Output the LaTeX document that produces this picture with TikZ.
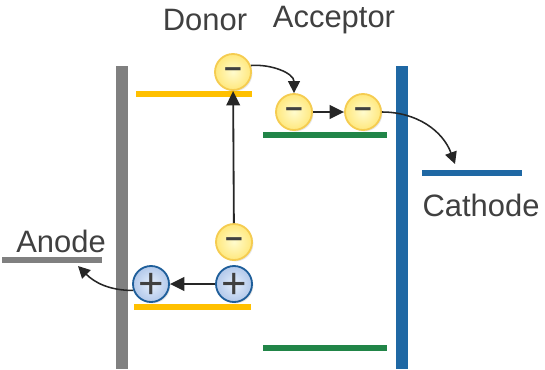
\documentclass[tikz,border=0pt]{standalone}
\usepackage{fontspec}
\setmainfont{Liberation Sans}
\usetikzlibrary{arrows.meta, positioning, shadows}
\definecolor{donoryellow}{RGB}{255,192,0}
\definecolor{accgreen}{RGB}{33,133,72}
\definecolor{cathblue}{RGB}{31,104,164}
\definecolor{anodegray}{RGB}{128,128,128}
\definecolor{textgray}{RGB}{64,64,64}
\definecolor{arrowgray}{RGB}{38,38,38}
\definecolor{eleccore}{RGB}{255,251,205}
\definecolor{elecrim}{RGB}{255,232,125}
\definecolor{elecdraw}{RGB}{245,204,80}
\definecolor{holecore}{RGB}{228,238,252}
\definecolor{holerim}{RGB}{178,200,234}
\definecolor{holedraw}{RGB}{30,94,154}
\newcommand{\chargesign}[2]{\raisebox{#1}[0pt][0pt]{#2}}
\tikzset{
    electrode/.style={draw=#1, line width=8.5pt},
    level/.style={draw=#1, line width=4.2pt},
    contact/.style={draw=#1, line width=3.6pt},
    eleclabel/.style={font=\fontsize{22}{26}\selectfont, text=textgray, inner sep=0pt},
    electron/.style={circle, draw=elecdraw, inner color=eleccore, outer color=elecrim, line width=1.3pt, minimum size=0.9cm, inner sep=0pt, text=textgray, font=\fontsize{22}{22}\selectfont\bfseries, drop shadow={opacity=0.2, shadow xshift=1pt, shadow yshift=-1pt}},
    hole/.style={circle, draw=holedraw, inner color=holecore, outer color=holerim, line width=1.3pt, minimum size=0.9cm, inner sep=0pt, text=textgray, font=\fontsize{31}{31}\selectfont, drop shadow={opacity=0.2, shadow xshift=1pt, shadow yshift=-1pt}},
    transfer/.style={-{Triangle[length=3.6mm, width=3.4mm]}, arrowgray, line width=1.3pt},
    hop/.style={-{Triangle[length=3mm, width=3mm]}, arrowgray, line width=1.1pt}
}

\begin{document}
\begin{tikzpicture}[x=0.025cm, y=-0.025cm]
\useasboundingbox (0,0) rectangle (545,369);

% electrodes
\draw[electrode=anodegray] (122,66) -- (122,369);
\draw[electrode=cathblue] (402,66) -- (402,369);

% energy levels
\draw[level=donoryellow] (136,94) -- (252,94);
\draw[level=donoryellow] (134,307) -- (251,307);
\draw[level=accgreen] (263,135) -- (387,135);
\draw[level=accgreen] (263,348) -- (387,348);
\draw[contact=anodegray] (2,260) -- (102,260);
\draw[contact=cathblue] (422,173) -- (522,173);

% labels
\node[eleclabel] (donor) at (205,20) {Donor};
\node[eleclabel] (acceptor) at (334,20) {Acceptor};
\node[eleclabel] (anode) at (61,241) {Anode};
\node[eleclabel] (cathode) at (481,205) {Cathode};

% charges
\node[electron] (e1) at (233,72) {\chargesign{-0.17em}{–}};
\node[electron] (e2) at (294,112) {\chargesign{-0.17em}{–}};
\node[electron] (e3) at (363,112) {\chargesign{-0.17em}{–}};
\node[electron] (e4) at (234,242) {\chargesign{-0.17em}{–}};
\node[hole] (h1) at (151,284) {\chargesign{-0.33em}{+}};
\node[hole] (h2) at (234,284) {\chargesign{-0.33em}{+}};

\coordinate (cathtip) at (455,164);
\coordinate (anodetip) at (78,266);

\draw[transfer] (e4) -- (e1);
\draw[transfer] (e2) -- (e3);
\draw[transfer] (h2) -- (h1);
\draw[hop] (e1.20) to[out=5, in=90] (e2.north);
\draw[hop] (e3.east) to[out=0, in=110] (cathtip);
\draw[hop] (h1.200) to[out=180, in=-45] (anodetip);

\end{tikzpicture}
\end{document}
